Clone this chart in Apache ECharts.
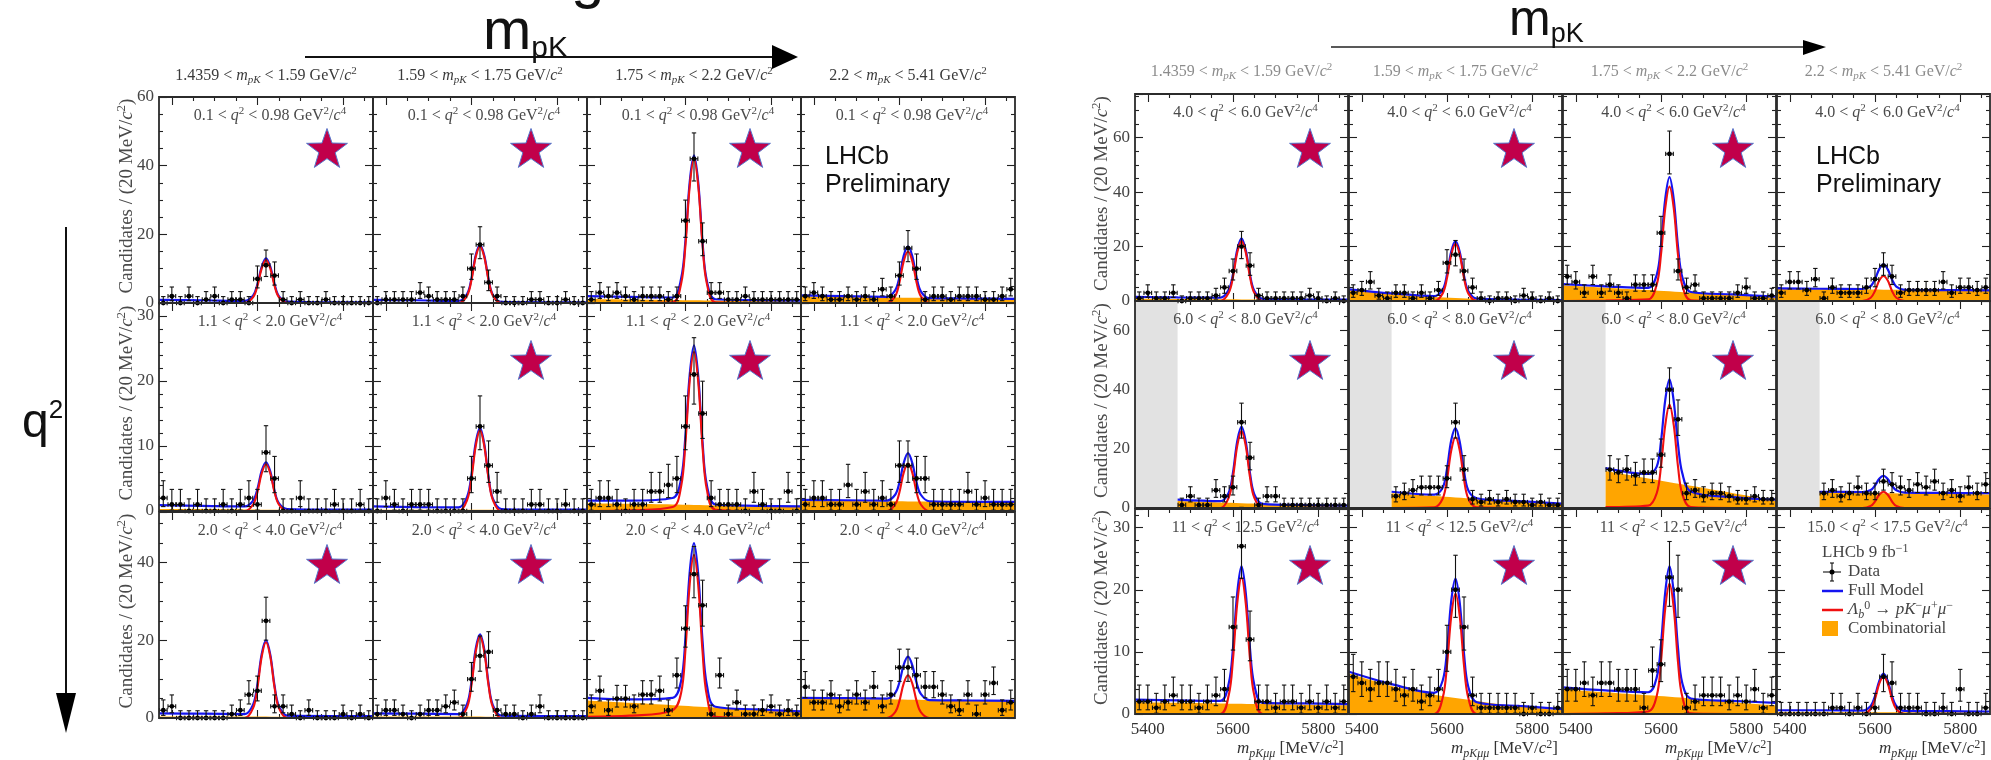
<!DOCTYPE html>
<html><head><meta charset="utf-8">
<script src="https://cdn.jsdelivr.net/npm/echarts@6/dist/echarts.min.js"></script>
<style>html,body{margin:0;padding:0;background:#fff}#c{width:1991px;height:760px}</style>
</head><body><div id="c"></div>
<script>
// ---------------- DATA ----------------
const binCenters = [5380,5400,5420,5440,5460,5480,5500,5520,5540,5560,5580,5600,5620,5640,5660,5680,5700,5720,5740,5760,5780,5800,5820,5840,5860];
const curveX = [5370,5470,5570,5590,5600,5610,5620,5630,5640,5650,5670,5770,5870];
const combX = [5370,5470,5570,5670,5770,5870];
const xMajorTicks = [5400,5600,5800];
const xMinorTicks = [5450,5500,5550,5650,5700,5750,5850];
const mpkBins = [["1.4359","1.59"],["1.59","1.75"],["1.75","2.2"],["2.2","5.41"]];
const q2Left = [["0.1","0.98"],["1.1","2.0"],["2.0","4.0"]];
const q2Right = [["4.0","6.0"],["6.0","8.0"],["11","12.5"]];
const q2RightLast = ["15.0","17.5"];
const yMaxLeft = [60,32,53], yIntLeft = [20,10,20], yMinorLeft = [4,5,4];
const yLabLeft = [[0,20,40,60],[0,10,20,30],[0,20,40]];
const yMaxRight = [76,70,33], yIntRight = [20,20,10], yMinorRight = [4,4,5];
const yLabRight = [[0,20,40,60],[0,20,40,60],[0,10,20,30]];

// left figure, row 1
const L11_data = [0,2,0,2,0,1,2,0,1,1,0,7,11,8,1,0,1,0,0,1,0,0,0,0,0];
const L11_full = [0.9,0.8,0.6,2.2,5.5,10.6,13,10.6,5.5,2,0.4,0.2,0.2];
const L11_sig  = [0,0,0,1.7,5,10.1,12.5,10.1,5,1.7,0,0,0];
const L11_comb = [0.3,0.3,0.3,0.25,0.25,0.2];
const L12_data = [0,1,1,1,1,3,2,1,1,1,2,10,17,6,2,0,0,0,1,1,0,0,1,0,0];
const L12_full = [0.9,0.8,0.6,2.7,7.1,13.9,17,13.8,6.9,2.4,0.3,0.2,0.2];
const L12_sig  = [0,0,0,2.2,6.6,13.4,16.5,13.4,6.6,2.2,0,0,0];
const L12_comb = [0.25,0.25,0.2,0.2,0.2,0.2];
const L13_data = [1,3,2,3,2,1,2,2,2,1,2,24,42,18,3,3,1,1,2,1,1,1,1,1,1];
const L13_full = [2,1.8,1.6,7.2,18.2,35.3,43,35,17.6,6.5,1.1,0.8,0.7];
const L13_sig  = [0,0,0.2,5.7,16.8,34,42,34,16.8,5.7,0.2,0,0];
const L13_comb = [1.2,1.05,0.9,0.75,0.6,0.5];
const L14_data = [2,3,2,1,1,2,1,2,1,4,2,8,16,10,1,2,2,1,2,2,2,1,1,2,4];
const L14_full = [2.2,2,1.8,3.7,7.6,13.8,16.5,13.7,7.5,3.4,1.4,1.3,1.2];
const L14_sig  = [0,0,0,2,6,12.2,15,12.2,6,2,0,0,0];
const L14_comb = [1.8,1.7,1.6,1.5,1.4,1.3];
// left figure, row 2
const L21_data = [2,1,1,0,1,0,0,1,0,1,2,1,9,5,0,0,2,0,0,0,1,0,0,1,0];
const L21_full = [0.9,0.8,0.7,1.6,3.4,6.2,7.5,6.1,3.1,1.2,0.3,0.2,0.2];
const L21_sig  = [0,0,0,1,2.9,5.8,7.2,5.8,2.9,1,0,0,0];
const L21_comb = [0.3,0.3,0.25,0.2,0.2,0.2];
const L22_data = [0,2,1,0,1,1,1,0,0,0,0,5,13,7,3,0,0,0,1,1,0,0,1,0,0];
const L22_full = [0.7,0.6,0.55,2.2,5.5,10.5,12.8,10.3,5.2,1.9,0.3,0.2,0.2];
const L22_sig  = [0,0,0,1.7,5,10,12.4,10,5,1.7,0,0,0];
const L22_comb = [0.2,0.2,0.2,0.2,0.2,0.2];
const L23_data = [1,2,2,1,0,1,1,3,3,4,5,13,21,15,2,1,1,1,0,3,1,0,0,3,0];
const L23_full = [1.6,1.6,2,5,11.6,21,25.5,20.7,10.6,4,1,0.8,0.7];
const L23_sig  = [0,0.1,0.6,3.8,10.5,20,24.5,19.8,9.8,3.3,0.2,0,0];
const L23_comb = [1.2,1.1,1,0.85,0.7,0.6];
const L24_data = [1,2,2,1,1,4,1,3,1,2,1,7,7,5,5,1,1,1,1,3,1,2,1,1,1];
const L24_full = [1.7,1.65,1.6,2.5,4.4,7.4,8.9,7.4,4.4,2.5,1.5,1.4,1.4];
const L24_sig  = [0,0,0,1,2.9,5.9,7.3,5.9,2.9,1,0,0,0];
const L24_comb = [1.6,1.55,1.5,1.45,1.4,1.3];
// left figure, row 3
const L31_data = [2,3,0,0,0,0,0,0,1,2,6,7,25,3,3,1,0,2,0,0,0,1,0,1,0];
const L31_full = [1.2,1.1,1,3.5,8.7,16.5,20,16.3,8.3,3.1,0.6,0.5,0.5];
const L31_sig  = [0,0,0,2.6,7.8,15.8,19.5,15.8,7.8,2.6,0,0,0];
const L31_comb = [0.4,0.4,0.4,0.35,0.35,0.3];
const L32_data = [1,2,2,1,0,1,2,2,3,4,1,10,16,17,2,1,1,0,1,3,0,0,0,0,0];
const L32_full = [1.2,1.1,1,3.7,9.3,17.8,21.5,17.6,8.9,3.3,0.6,0.5,0.5];
const L32_sig  = [0,0,0,2.8,8.4,17,21,17,8.4,2.8,0,0,0];
const L32_comb = [0.4,0.4,0.4,0.35,0.35,0.3];
const L33_data = [3,7,2,5,5,3,6,6,7,2,11,23,37,29,1,11,1,4,1,1,2,3,1,2,1];
const L33_full = [5.2,4.8,5.2,9.6,20.6,37.6,45,36.8,19.8,8.5,2.9,2.2,1.7];
const L33_sig  = [0.3,0.6,2,6.5,17.5,34.5,42,34,17,5.8,0.3,0,0];
const L33_comb = [4.5,3.9,3.3,2.7,2.1,1.5];
const L34_data = [8,4,4,6,3,4,6,4,8,3,6,13,13,11,8,8,6,3,2,6,1,6,9,2,4];
const L34_full = [5.2,5.1,5,6.4,9.2,13.7,15.8,13.6,9.1,6.2,4.6,4.5,4.4];
const L34_sig  = [0,0,0,1.5,4.4,8.9,11,8.9,4.4,1.5,0,0,0];
const L34_comb = [5,4.9,4.8,4.6,4.5,4.3];
// right figure, row 1
const R11_data = [1,3,1,1,3,0,1,1,1,2,5,11,20,13,2,1,1,1,1,1,2,1,0,1,0];
const R11_full = [1.5,1.3,1.2,4.1,9.8,18.8,23,18.7,9.6,3.8,0.8,0.6,0.5];
const R11_sig  = [0,0,0,3,8.8,17.8,22,17.8,8.8,3,0,0,0];
const R11_comb = [0.8,0.7,0.6,0.5,0.45,0.4];
const R12_data = [3,4,7,2,1,3,3,1,3,1,4,14,17,11,5,1,0,1,1,0,2,1,0,1,0];
const R12_full = [4.3,2.8,1.8,4.2,9.7,18.2,22,18,9.3,3.7,0.9,0.5,0.3];
const R12_sig  = [0,0,0,2.8,8.4,17,21,17,8.4,2.8,0,0,0];
const R12_comb = [4,2.5,1.5,0.8,0.4,0.2];
const R13_data = [9,7,3,9,3,6,3,1,6,6,6,25,54,11,5,6,1,1,1,1,3,5,1,1,2];
const R13_full = [6.2,5.4,4.8,9.6,20.5,37.5,45.5,37.3,20,8.8,3.3,2.4,1.6];
const R13_sig  = [0,0.2,0.6,6,17,34,42,34,16.8,5.7,0.3,0,0];
const R13_comb = [5.8,4.9,4,3,2.1,1.2];
const R14_data = [3,7,7,4,8,1,5,3,3,3,5,8,13,9,3,4,4,4,4,7,3,5,5,4,5];
const R14_full = [4.6,4.5,4.4,5.5,8,11.7,13.5,11.6,7.9,5.3,4.1,4,3.9];
const R14_sig  = [0,0,0,1.2,3.7,7.5,9.2,7.5,3.7,1.2,0,0,0];
const R14_comb = [4.4,4.3,4.2,4.1,4,3.9];
// right figure, row 2 (region below 5470 is vetoed)
const R21_data = [null,null,null,null,null,1,4,1,1,6,4,7,29,17,1,4,4,1,1,1,1,1,1,1,1];
const R21_full = [null,2.8,2.3,5.2,12,22.6,27.5,22.4,11.7,4.7,1.4,1,0.8];
const R21_sig  = [null,0,0,3.5,10.4,21,26,21,10.4,3.5,0,0,0];
const R21_comb = [null,2.4,1.9,1.4,0.9,0.4];
const R22_data = [null,null,null,null,null,4,5,6,7,7,7,10,29,13,3,2,3,2,3,2,2,1,2,1,1];
const R22_full = [null,5.5,4.5,6.9,13.2,22.9,27,22.3,12.5,6,3.3,2.3,1.5];
const R22_sig  = [null,0,0.2,3.2,9.6,19.4,24,19.4,9.6,3.2,0.2,0,0];
const R22_comb = [null,5,4.05,3.1,2.15,1.2];
const R23_data = [null,null,null,null,null,13,12,13,11,12,12,18,40,30,5,6,4,5,5,4,3,3,4,3,3];
const R23_full = [null,13.5,11.5,14,22.5,36.5,43.5,36,21.5,11.8,5.6,3.7,2.8];
const R23_sig  = [null,0.3,0.8,5,14,28,35,28,14,4.7,0.3,0,0];
const R23_comb = [null,12.5,10,7.5,5,2.5];
const R24_data = [null,null,null,null,null,5,6,4,5,7,5,5,9,8,7,6,8,7,9,5,6,4,7,5,8];
const R24_full = [null,5.5,5.4,6.1,7.6,9.9,10.9,9.8,7.5,6,5.2,5.1,5];
const R24_sig  = [null,0,0,0.7,2.2,4.5,5.5,4.5,2.2,0.7,0,0,0];
const R24_comb = [null,5.2,5.05,4.9,4.75,4.6];
// right figure, row 3
const R31_data = [2,2,1,2,3,2,2,1,2,3,4,14,27,12,2,2,1,2,2,1,2,1,2,1,2];
const R31_full = [2.3,2.2,2.1,4.9,10.6,19.5,23.8,19.5,10.5,4.7,1.8,1.7,1.6];
const R31_sig  = [0,0,0,3,8.8,17.8,22,17.8,8.8,3,0,0,0];
const R31_comb = [1.9,1.8,1.7,1.6,1.5,1.4];
const R32_data = [6,5,4,5,5,4,3,4,2,3,4,10,20,14,3,1,1,1,1,1,0,1,0,0,1];
const R32_full = [6.8,4.8,3.4,5.4,10.2,18.2,21.8,17.9,9.7,4.4,1.9,1.3,0.8];
const R32_sig  = [0,0,0,2.6,7.8,15.7,19.4,15.7,7.8,2.6,0,0,0];
const R32_comb = [6.5,4.5,3.1,2.1,1.2,0.6];
const R33_data = [4,4,5,3,5,5,4,4,4,1,7,8,22,20,1,2,3,3,3,2,3,2,4,1,3];
const R33_full = [4.3,3.8,3.5,5.9,11.2,19.6,23.8,19.5,10.6,5,2.5,2.1,1.8];
const R33_sig  = [0,0.1,0.4,2.9,8.4,17,21,17,8.3,2.8,0.1,0,0];
const R33_comb = [4,3.5,3,2.5,1.9,1.4];
const R34_data = [0,0,0,0,0,0,1,1,0,1,0,1,6,5,1,1,1,0,0,1,0,4,0,0,1];
const R34_full = [0.6,0.6,0.55,1.3,2.9,5.3,6.5,5.3,2.9,1.3,0.5,0.45,0.4];
const R34_sig  = [0,0,0,0.8,2.4,4.9,6,4.9,2.4,0.8,0,0,0];
const R34_comb = [0.3,0.3,0.3,0.3,0.3,0.3];

const panelArrays = {
  L11:[L11_data,L11_full,L11_sig,L11_comb], L12:[L12_data,L12_full,L12_sig,L12_comb],
  L13:[L13_data,L13_full,L13_sig,L13_comb], L14:[L14_data,L14_full,L14_sig,L14_comb],
  L21:[L21_data,L21_full,L21_sig,L21_comb], L22:[L22_data,L22_full,L22_sig,L22_comb],
  L23:[L23_data,L23_full,L23_sig,L23_comb], L24:[L24_data,L24_full,L24_sig,L24_comb],
  L31:[L31_data,L31_full,L31_sig,L31_comb], L32:[L32_data,L32_full,L32_sig,L32_comb],
  L33:[L33_data,L33_full,L33_sig,L33_comb], L34:[L34_data,L34_full,L34_sig,L34_comb],
  R11:[R11_data,R11_full,R11_sig,R11_comb], R12:[R12_data,R12_full,R12_sig,R12_comb],
  R13:[R13_data,R13_full,R13_sig,R13_comb], R14:[R14_data,R14_full,R14_sig,R14_comb],
  R21:[R21_data,R21_full,R21_sig,R21_comb], R22:[R22_data,R22_full,R22_sig,R22_comb],
  R23:[R23_data,R23_full,R23_sig,R23_comb], R24:[R24_data,R24_full,R24_sig,R24_comb],
  R31:[R31_data,R31_full,R31_sig,R31_comb], R32:[R32_data,R32_full,R32_sig,R32_comb],
  R33:[R33_data,R33_full,R33_sig,R33_comb], R34:[R34_data,R34_full,R34_sig,R34_comb]
};

// ---------------- LAYOUT ----------------
const SERIF = "'Liberation Serif','DejaVu Serif',serif";
const SANS = "'Liberation Sans',Arial,sans-serif";
const LAYOUT = {
  L: {cols:[159,373,587,801], w:214, rows:[[97,206],[303,208],[512,206]], ylabX:127, titleY:76, titleColor:'#3a3a3a'},
  R: {cols:[1135,1349,1563,1777], w:213, rows:[[94,207],[301,207],[509,205]], ylabX:1102, titleY:72, titleColor:'#8c8c8c'}
};
const BLUE = '#1414f0', RED = '#f01010', ORANGE = '#ffa500', INK = '#222';

function mathRich(size, color) {
  const s = Math.round(size * 0.68);
  return {
    n:{fontFamily:SERIF,fontSize:size,fill:color,lineHeight:size+4},
    i:{fontFamily:SERIF,fontSize:size,fill:color,fontStyle:'italic',lineHeight:size+4},
    p:{fontFamily:SERIF,fontSize:s,fill:color,lineHeight:s,verticalAlign:'top'},
    b:{fontFamily:SERIF,fontSize:s,fill:color,fontStyle:'italic',lineHeight:s,verticalAlign:'bottom'}
  };
}
function txt(x, y, text, o) {
  o = o || {};
  const el = {type:'text', x:x, y:y, silent:true, z:50,
    style:{text:text, fill:o.color||'#444', fontSize:o.size||15, fontFamily:o.family||SERIF,
      align:o.align||'center', textAlign:o.align||'center',
      verticalAlign:o.valign||'middle', textVerticalAlign:o.valign||'middle', rich:o.rich}};
  if (o.rotation) el.rotation = o.rotation;
  return el;
}
function star(cx, cy) {
  const pts = [];
  for (let i = 0; i < 10; i++) {
    const a = -Math.PI/2 + i * Math.PI/5, rr = i % 2 ? 8.6 : 21.5;
    pts.push([cx + rr*Math.cos(a), cy + rr*Math.sin(a)]);
  }
  return {type:'polygon', silent:true, z:40, shape:{points:pts}, style:{fill:'#c1004a', stroke:'#5577cc', lineWidth:1}};
}

function renderPoint(params, api) {
  const x = api.value(0), n = api.value(1);
  const up = Math.sqrt(n + 0.75) + 1;
  const dn = n > 0 ? Math.sqrt(n - 0.25) : 0;
  const p = api.coord([x, n]), pt = api.coord([x, n + up]), pb = api.coord([x, n - dn]);
  const pl = api.coord([x - 9, n]), pr = api.coord([x + 9, n]);
  const s = {stroke:'#111', lineWidth:1.1};
  const c = 2.2;
  const ch = [
    {type:'line', shape:{x1:p[0],y1:pt[1],x2:p[0],y2:pb[1]}, style:s},
    {type:'line', shape:{x1:pl[0],y1:p[1],x2:pr[0],y2:p[1]}, style:s},
    {type:'line', shape:{x1:p[0]-c,y1:pt[1],x2:p[0]+c,y2:pt[1]}, style:s},
    {type:'line', shape:{x1:pl[0],y1:p[1]-c,x2:pl[0],y2:p[1]+c}, style:s},
    {type:'line', shape:{x1:pr[0],y1:p[1]-c,x2:pr[0],y2:p[1]+c}, style:s},
    {type:'circle', shape:{cx:p[0],cy:p[1],r:2.4}, style:{fill:'#000'}}
  ];
  if (dn > 0) ch.push({type:'line', shape:{x1:p[0]-c,y1:pb[1],x2:p[0]+c,y2:pb[1]}, style:s});
  return {type:'group', children:ch};
}

const grids = [], xAxes = [], yAxes = [], series = [], G = [];
let gi = 0;
['L','R'].forEach(function(side){
  const Lo = LAYOUT[side];
  for (let r = 0; r < 3; r++) for (let c = 0; c < 4; c++) {
    const key = side + (r+1) + (c+1);
    const arr = panelArrays[key];
    const left = Lo.cols[c], top = Lo.rows[r][0], h = Lo.rows[r][1], w = Lo.w;
    const yMax = side==='L' ? yMaxLeft[r] : yMaxRight[r];
    const yInt = side==='L' ? yIntLeft[r] : yIntRight[r];
    const yMin = side==='L' ? yMinorLeft[r] : yMinorRight[r];
    const yLab = side==='L' ? yLabLeft[r] : yLabRight[r];
    grids.push({left:left, top:top, width:w, height:h, show:false, containLabel:false, outerBoundsMode:'none'});
    // frame drawn above the curves
    G.push({type:'rect', silent:true, z:30, shape:{x:left, y:top, width:w, height:h},
      style:{fill:'none', stroke:'#2b2b2b', lineWidth:1.8}});
    const showX = side==='R' && r===2;
    const tickLS = {color:INK, width:1.1};
    const xb = {gridIndex:gi, type:'value', min:5370, max:5870, axisLine:{show:false,onZero:false}, splitLine:{show:false}};
    xAxes.push(Object.assign({}, xb, {position:'bottom',
      axisTick:{show:true, inside:true, length:8, customValues:xMajorTicks, lineStyle:tickLS},
      axisLabel: showX ? {show:true, customValues:xMajorTicks, formatter:function(v){return String(v);},
        fontFamily:SERIF, fontSize:17, color:'#333', margin:7} : {show:false}}));
    xAxes.push(Object.assign({}, xb, {position:'bottom',
      axisTick:{show:true, inside:true, length:4, customValues:xMinorTicks, lineStyle:tickLS}, axisLabel:{show:false}}));
    xAxes.push(Object.assign({}, xb, {position:'top',
      axisTick:{show:true, inside:true, length:8, customValues:xMajorTicks, lineStyle:tickLS}, axisLabel:{show:false}}));
    xAxes.push(Object.assign({}, xb, {position:'top',
      axisTick:{show:true, inside:true, length:4, customValues:xMinorTicks, lineStyle:tickLS}, axisLabel:{show:false}}));
    const yb = {gridIndex:gi, type:'value', min:0, max:yMax, interval:yInt, axisLine:{show:false,onZero:false},
      splitLine:{show:false}, minorSplitLine:{show:false},
      axisTick:{show:true, inside:true, length:8, lineStyle:tickLS},
      minorTick:{show:true, splitNumber:yMin, length:4, lineStyle:tickLS}};
    yAxes.push(Object.assign({}, yb, {position:'left',
      axisLabel: c===0 ? {show:true, customValues:yLab, fontFamily:SERIF, fontSize:17, color:'#444', margin:5} : {show:false}}));
    yAxes.push(Object.assign({}, yb, {position:'right', axisLabel:{show:false}}));

    const xi = 4*gi, yi = 2*gi;
    const combSeries = {type:'line', xAxisIndex:xi, yAxisIndex:yi, z:2, silent:true, smooth:0.3, showSymbol:false,
      data: combX.map(function(x,j){ return [x, arr[3][j]]; }),
      lineStyle:{width:0, color:ORANGE}, areaStyle:{color:ORANGE, opacity:1}};
    if (side==='R' && r===1) {
      combSeries.markArea = {silent:true, itemStyle:{color:'#e2e2e2'}, data:[[{xAxis:5370},{xAxis:5470}]]};
    }
    series.push(combSeries);
    series.push({type:'line', xAxisIndex:xi, yAxisIndex:yi, z:4, silent:true, smooth:0.35, showSymbol:false,
      data: curveX.map(function(x,j){ return [x, arr[1][j]]; }), lineStyle:{color:BLUE, width:2.2}});
    series.push({type:'line', xAxisIndex:xi, yAxisIndex:yi, z:5, silent:true, smooth:0.35, showSymbol:false,
      data: curveX.map(function(x,j){ return [x, arr[2][j]]; }), lineStyle:{color:RED, width:2.1}});
    const pts = [];
    arr[0].forEach(function(n,k){ if (n !== null) pts.push([binCenters[k], n]); });
    series.push({type:'custom', xAxisIndex:xi, yAxisIndex:yi, z:7, silent:true, data:pts, renderItem:renderPoint});

    let q = side==='L' ? q2Left[r] : q2Right[r];
    if (side==='R' && r===2 && c===3) q = q2RightLast;
    G.push(txt(left + w/2 + 4, top + 19,
      '{n|' + q[0] + ' < }{i|q}{p|2}{n| < ' + q[1] + ' GeV}{p|2}{n|/}{i|c}{p|4}',
      {rich:mathRich(16, '#4a4a4a')}));
    gi++;
  }
  for (let c = 0; c < 4; c++) {
    const b = mpkBins[c];
    G.push(txt(Lo.cols[c] + Lo.w/2, Lo.titleY,
      '{n|' + b[0] + ' < }{i|m}{b|pK}{n| < ' + b[1] + ' GeV/}{i|c}{p|2}',
      {rich:mathRich(16, Lo.titleColor)}));
  }
  for (let r = 0; r < 3; r++) {
    const top = Lo.rows[r][0], h = Lo.rows[r][1];
    G.push(txt(Lo.ylabX, top + h/2 - 4, '{n|Candidates / (20 MeV/}{i|c}{p|2}{n|)}',
      {rich:mathRich(19, '#4a4a4a'), rotation:Math.PI/2}));
  }
});

LAYOUT.R.cols.forEach(function(cx){
  G.push(txt(cx + LAYOUT.R.w - 4, 749, '{i|m}{b|pKμμ}{n| [MeV/}{i|c}{p|2}{n|]}',
    {rich:mathRich(17, '#333'), align:'right'}));
});

[[0,0],[0,1],[0,2],[1,1],[1,2],[2,0],[2,1],[2,2]].forEach(function(rc){
  G.push(star([327,531,750][rc[1]], [150,362,566][rc[0]]));
});
[[0,0],[0,1],[0,2],[1,0],[1,1],[1,2],[2,0],[2,1],[2,2]].forEach(function(rc){
  G.push(star([1310,1514,1733][rc[1]], [150,362,567][rc[0]]));
});

[[825,157],[1816,157]].forEach(function(p){
  G.push(txt(p[0], p[1], 'LHCb', {family:SANS, size:25, color:'#111', align:'left'}));
  G.push(txt(p[0], p[1] + 28, 'Preliminary', {family:SANS, size:25, color:'#111', align:'left'}));
});

G.push(txt(1822, 553, '{n|LHCb 9 fb}{p|−1}', {rich:mathRich(17, '#444'), align:'left'}));
G.push({type:'group', silent:true, z:50, children:[
  {type:'line', shape:{x1:1832,y1:563,x2:1832,y2:581}, style:{stroke:'#111',lineWidth:1.1}},
  {type:'line', shape:{x1:1823,y1:572,x2:1841,y2:572}, style:{stroke:'#111',lineWidth:1.1}},
  {type:'line', shape:{x1:1830,y1:563,x2:1834,y2:563}, style:{stroke:'#111',lineWidth:1.1}},
  {type:'line', shape:{x1:1830,y1:581,x2:1834,y2:581}, style:{stroke:'#111',lineWidth:1.1}},
  {type:'circle', shape:{cx:1832,cy:572,r:2.5}, style:{fill:'#000'}},
  {type:'line', shape:{x1:1822,y1:591,x2:1843,y2:591}, style:{stroke:BLUE,lineWidth:2.5}},
  {type:'line', shape:{x1:1822,y1:610,x2:1843,y2:610}, style:{stroke:RED,lineWidth:2.5}},
  {type:'rect', shape:{x:1822,y:621,width:16,height:15}, style:{fill:ORANGE}}
]});
G.push(txt(1848, 572, 'Data', {size:17, color:'#444', align:'left'}));
G.push(txt(1848, 591, 'Full Model', {size:17, color:'#444', align:'left'}));
G.push(txt(1848, 610, '{i|Λ}{b|b}{p|0}{n| → }{i|pK}{p|−}{i|μ}{p|+}{i|μ}{p|−}', {rich:mathRich(17, '#444'), align:'left'}));
G.push(txt(1848, 629, 'Combinatorial', {size:17, color:'#444', align:'left'}));

const bigRich = function(ms, ss){ return {
  m:{fontFamily:SANS,fontSize:ms,fill:'#111',lineHeight:ms+4},
  s:{fontFamily:SANS,fontSize:ss,fill:'#111',lineHeight:ss,verticalAlign:'bottom'}}; };
G.push(txt(483, 33, '{m|m}{s|pK}', {rich:bigRich(58,30), align:'left'}));
G.push(txt(1509, 21, '{m|m}{s|pK}', {rich:bigRich(50,27), align:'left'}));
G.push(txt(571, -50, 'g', {family:SANS, size:60, color:'#111', align:'left', valign:'top'}));
G.push({type:'line', silent:true, shape:{x1:305,y1:57,x2:776,y2:57}, style:{stroke:'#111',lineWidth:2}});
G.push({type:'polygon', silent:true, shape:{points:[[772,45],[798,57],[772,69]]}, style:{fill:'#000'}});
G.push({type:'line', silent:true, shape:{x1:1331,y1:47,x2:1806,y2:47}, style:{stroke:'#222',lineWidth:1.6}});
G.push({type:'polygon', silent:true, shape:{points:[[1803,40],[1826,47],[1803,55]]}, style:{fill:'#000'}});
G.push({type:'line', silent:true, shape:{x1:66,y1:227,x2:66,y2:696}, style:{stroke:'#111',lineWidth:2}});
G.push({type:'polygon', silent:true, shape:{points:[[56,693],[66,733],[76,693]]}, style:{fill:'#000'}});
G.push(txt(22, 424, '{q|q}{t|2}', {align:'left', rich:{
  q:{fontFamily:SANS,fontSize:48,fill:'#111',lineHeight:52},
  t:{fontFamily:SANS,fontSize:26,fill:'#111',lineHeight:26,verticalAlign:'top'}}}));

const chart = echarts.init(document.getElementById('c'), null, {renderer:'canvas'});
chart.setOption({
  animation:false, backgroundColor:'#ffffff',
  grid:grids, xAxis:xAxes, yAxis:yAxes, series:series,
  graphic:{elements:G}
});
</script></body></html>
